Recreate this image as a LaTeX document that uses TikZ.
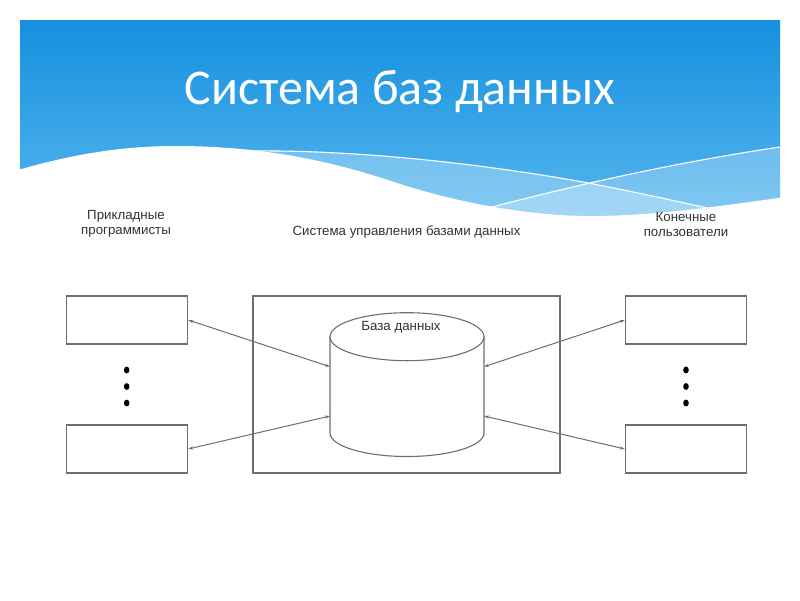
\documentclass[tikz,border=0pt]{standalone}
\usepackage{fontspec}
\setmainfont{Liberation Sans}
\newfontfamily\titlefont{Carlito}
\usetikzlibrary{arrows.meta}
\definecolor{bluetop}{HTML}{1590DE}
\definecolor{bluebot}{HTML}{5BB9F0}
\definecolor{linegray}{HTML}{6E6E6E}
\definecolor{textgray}{HTML}{333333}
\tikzset{
  rolebox/.style={draw=linegray, line width=1.4pt, minimum width=121pt, minimum height=48pt, inner sep=0pt},
  sysbox/.style={draw=linegray, line width=1.4pt, minimum width=307pt, minimum height=177pt, inner sep=0pt},
  lbl/.style={font=\fontsize{13.3}{15}\selectfont, text=textgray, align=center, inner sep=0pt},
  link/.style={draw=linegray, line width=1pt, {Stealth[length=5pt,width=3.2pt]}-{Stealth[length=5pt,width=3.2pt]}},
  dot/.style={fill=black},
  wave/.style={draw=white, line width=1.1pt}
}
\begin{document}
\begin{tikzpicture}[x=1pt,y=-1pt]
\useasboundingbox (0,0) rectangle (800,600);
\fill[white] (0,0) rectangle (800,600);
% header background
\shade[top color=bluetop, bottom color=bluebot] (20,20) rectangle (780,235);
% light bands
\fill[white, fill opacity=0.28] (253,151) .. controls (340,150) and (460,160) .. (583,182) .. controls (640,193) and (680,202) .. (712,209) -- (712,240) -- (253,240) -- cycle;
\fill[white, fill opacity=0.25] (480,210) .. controls (540,195) and (640,168) .. (780,147) -- (780,240) -- (480,240) -- cycle;
% thin lines
\draw[wave] (253,151) .. controls (340,150) and (460,160) .. (583,182) .. controls (640,193) and (680,202) .. (712,209);
\draw[wave] (480,210) .. controls (540,195) and (640,168) .. (780,147);
% white wave
\fill[white] (18,170) .. controls (70,155) and (120,146) .. (175,146) .. controls (260,146) and (330,160) .. (400,184) .. controls (470,206) and (540,217) .. (600,216) .. controls (660,215) and (720,206) .. (786,197) -- (786,245) -- (18,245) -- cycle;
% title
\node[text=white, font=\titlefont\fontsize{50}{60}\selectfont, anchor=base, inner sep=0pt] (title) at (400,104) {Система баз данных};
% labels
\node[lbl] (lprog) at (126,224) {Прикладные\\программисты};
\node[lbl, anchor=base] (ldbms) at (406.5,235) {Система управления базами данных};
\node[lbl] (lusers) at (686,224) {Конечные\\пользователи};
% boxes
\node[rolebox] (p1) at (127,320) {};
\node[rolebox] (p2) at (127,449) {};
\node[rolebox] (u1) at (686,320) {};
\node[rolebox] (u2) at (686,449) {};
\node[sysbox] (dbms) at (406.5,384.5) {};
% cylinder
\draw[linegray, line width=1.1pt, fill=white] (330,336.7) -- (330,433) arc[start angle=180, end angle=0, x radius=77, y radius=23.5] -- (484,336.7);
\draw[linegray, line width=1.1pt] (407,336.7) ellipse[x radius=77, y radius=24];
\node[lbl] (dbl) at (401,327.5) {База данных};
\coordinate (cl1) at (330,366.7);
\coordinate (cl2) at (330,416);
\coordinate (cr1) at (484,366.7);
\coordinate (cr2) at (484,416);
% connectors
\draw[link] (p1.east) -- (cl1);
\draw[link] (p2.east) -- (cl2);
\draw[link] (cr1) -- (u1.west);
\draw[link] (cr2) -- (u2.west);
% dots
\foreach \y in {370,386.5,403} {
  \fill[dot] (126.7,\y) ellipse[x radius=2.8, y radius=3.4];
  \fill[dot] (686,\y) ellipse[x radius=2.8, y radius=3.4];
}
\end{tikzpicture}
\end{document}
